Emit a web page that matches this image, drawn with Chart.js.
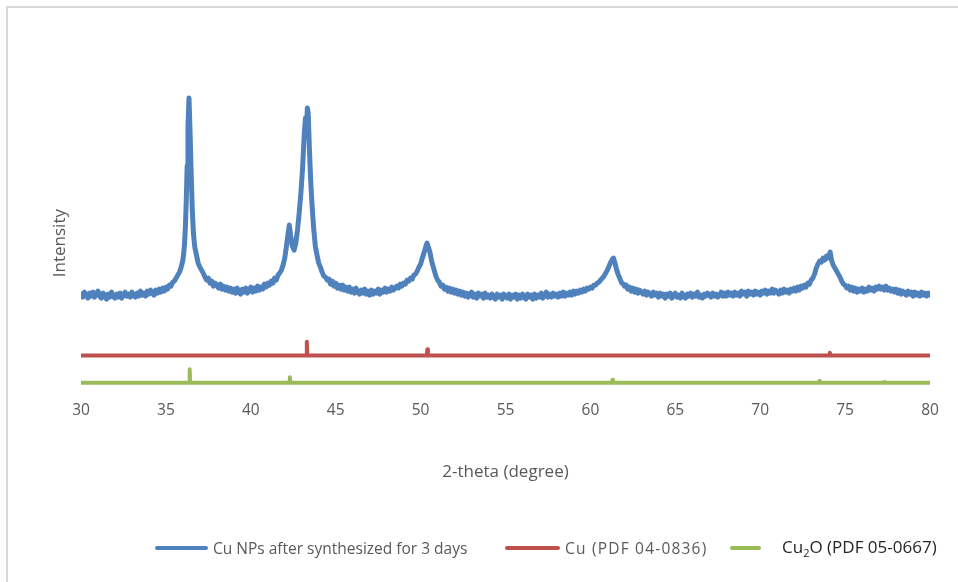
<!DOCTYPE html>
<html>
<head>
<meta charset="utf-8">
<script src="https://cdn.jsdelivr.net/npm/chart.js@4.4.1/dist/chart.umd.min.js"></script>
<style>
  body { margin: 0; background: #fff; overflow: hidden; font-family: "Open Sans", sans-serif; }
  #wrap { position: relative; width: 958px; height: 582px; overflow: hidden; }
  #frame { position: absolute; left: 6px; top: 6px; width: 1000px; height: 1000px;
           border-left: 2px solid #d9d9d9; border-top: 2px solid #d9d9d9; }
  canvas { position: absolute; left: 0; top: 0; }
  .leg { position: absolute; top: 537px; height: 22px; display: flex; align-items: center;
         color: #595959; font-size: 15.5px; white-space: nowrap; }
  .sw { display: inline-block; height: 4px; border-radius: 2px; margin-right: 5px; }
  .big { font-size: 17px; color: #262626; }
  .big sub { font-size: 11px; }
</style>
</head>
<body>
<div id="wrap">
  <div id="frame"></div>
  <canvas id="chart" width="958" height="582"></canvas>
  <div class="leg" style="left:155px"><span class="sw" style="width:53px;background:#4f81bd"></span>Cu NPs after synthesized for 3 days</div>
  <div class="leg" style="left:505px"><span class="sw" style="width:55px;background:#c0504d"></span><span style="letter-spacing:1.2px">Cu (PDF 04-0836)</span></div>
  <div class="leg" style="left:730px"><span class="sw" style="width:31px;background:#9bbb59;margin-right:21px"></span><span class="big">Cu<sub>2</sub>O (PDF 05-0667)</span></div>
</div>
<script>
// measured pattern, [2-theta, intensity (a.u.)]
const cuNpsScan = [
  [30.0,104],[30.1,101],[30.2,106],[30.3,103],[30.4,100],[30.5,105],[30.6,102],[30.7,106],[30.8,101],[30.9,104],
  [31.0,107],[31.1,102],[31.2,100],[31.3,105],[31.4,103],[31.5,99],[31.6,104],[31.7,101],[31.8,106],[31.9,102],
  [32.0,100],[32.1,104],[32.2,101],[32.3,105],[32.4,100],[32.5,103],[32.6,106],[32.7,102],[32.8,104],[32.9,101],
  [33.0,106],[33.1,103],[33.2,101],[33.3,105],[33.4,102],[33.5,107],[33.6,103],[33.7,105],[33.8,102],[33.9,107],
  [34.0,104],[34.1,108],[34.2,105],[34.3,103],[34.4,108],[34.5,105],[34.6,109],[34.7,106],[34.8,110],[34.9,107],
  [35.0,111],[35.1,109],[35.2,113],[35.3,112],[35.4,116],[35.5,117],[35.6,120],[35.7,123],[35.8,126],[35.9,131],
  [36.0,138],[36.05,145],[36.1,155],[36.15,172],[36.2,198],[36.25,232],[36.3,272],[36.36,300],[36.42,268],[36.48,230],
  [36.55,190],[36.62,165],[36.7,151],[36.8,143],[36.9,135],[37.0,131],[37.1,128],[37.2,125],[37.3,121],
  [37.4,118],[37.5,120],[37.6,115],[37.7,117],[37.8,112],[37.9,115],[38.0,113],[38.1,110],[38.2,114],[38.3,109],
  [38.4,112],[38.5,108],[38.6,111],[38.7,107],[38.8,110],[38.9,106],[39.0,109],[39.1,105],[39.2,110],[39.3,106],
  [39.4,104],[39.5,109],[39.6,106],[39.7,110],[39.8,105],[39.9,108],[40.0,111],[40.1,106],[40.2,110],[40.3,107],
  [40.4,112],[40.5,108],[40.6,111],[40.7,109],[40.8,114],[40.9,111],[41.0,115],[41.1,113],[41.2,117],[41.3,115],
  [41.4,120],[41.5,118],[41.6,123],[41.7,125],[41.8,128],[41.9,133],[42.0,140],[42.1,152],[42.2,165],[42.27,173],
  [42.35,162],[42.45,152],[42.55,148],[42.65,155],[42.75,168],[42.85,185],[42.95,205],[43.05,230],[43.15,265],[43.22,280],
  [43.27,262],[43.33,290],[43.38,285],[43.45,250],[43.52,220],[43.6,195],[43.7,170],[43.8,152],[43.9,143],[44.0,135],
  [44.1,131],[44.2,126],[44.3,122],[44.4,121],[44.5,118],[44.6,119],[44.7,114],[44.8,117],[44.9,112],[45.0,115],
  [45.1,110],[45.2,113],[45.3,109],[45.4,113],[45.5,108],[45.6,111],[45.7,107],[45.8,111],[45.9,106],[46.0,109],
  [46.1,105],[46.2,110],[46.3,106],[46.4,104],[46.5,108],[46.6,105],[46.7,109],[46.8,104],[46.9,107],[47.0,103],
  [47.1,108],[47.2,104],[47.3,107],[47.4,105],[47.5,109],[47.6,104],[47.7,108],[47.8,106],[47.9,110],[48.0,106],
  [48.1,109],[48.2,107],[48.3,111],[48.4,108],[48.5,110],[48.6,112],[48.7,110],[48.8,114],[48.9,112],[49.0,115],
  [49.1,114],[49.2,118],[49.3,117],[49.4,120],[49.5,119],[49.6,123],[49.7,124],[49.8,127],[49.9,131],[50.0,134],
  [50.1,140],[50.2,145],[50.3,151],[50.38,155],[50.45,151],[50.55,146],[50.65,137],[50.8,128],[50.9,122],[51.0,118],
  [51.1,116],[51.2,112],[51.3,113],[51.4,109],[51.5,111],[51.6,107],[51.7,110],[51.8,106],[51.9,109],[52.0,105],
  [52.1,108],[52.2,104],[52.3,107],[52.4,103],[52.5,106],[52.6,102],[52.7,105],[52.8,101],[52.9,104],[53.0,106],
  [53.1,101],[53.2,104],[53.3,100],[53.4,105],[53.5,102],[53.6,104],[53.7,100],[53.8,105],[53.9,101],[54.0,103],
  [54.1,100],[54.2,104],[54.3,101],[54.4,99],[54.5,104],[54.6,101],[54.7,103],[54.8,99],[54.9,104],[55.0,102],
  [55.1,100],[55.2,104],[55.3,99],[55.4,103],[55.5,101],[55.6,104],[55.7,99],[55.8,103],[55.9,100],[56.0,104],
  [56.1,101],[56.2,99],[56.3,104],[56.4,101],[56.5,103],[56.6,99],[56.7,104],[56.8,100],[56.9,103],[57.0,101],
  [57.1,105],[57.2,100],[57.3,103],[57.4,106],[57.5,101],[57.6,104],[57.7,101],[57.8,105],[57.9,102],[58.0,104],
  [58.1,101],[58.2,105],[58.3,102],[58.4,106],[58.5,102],[58.6,105],[58.7,103],[58.8,106],[58.9,103],[59.0,107],
  [59.1,104],[59.2,107],[59.3,105],[59.4,108],[59.5,106],[59.6,109],[59.7,107],[59.8,110],[59.9,109],[60.0,111],
  [60.1,110],[60.2,113],[60.3,113],[60.4,115],[60.5,116],[60.6,118],[60.7,120],[60.8,122],[60.9,125],[61.0,128],
  [61.1,132],[61.2,136],[61.3,139],[61.36,140],[61.45,135],[61.55,128],[61.65,123],[61.75,119],[61.85,115],[61.95,114],
  [62.0,112],[62.1,113],[62.2,109],[62.3,111],[62.4,107],[62.5,110],[62.6,106],[62.7,109],[62.8,105],[62.9,108],
  [63.0,106],[63.1,104],[63.2,107],[63.3,103],[63.4,106],[63.5,104],[63.6,102],[63.7,106],[63.8,103],[63.9,105],
  [64.0,101],[64.1,105],[64.2,102],[64.3,104],[64.4,100],[64.5,104],[64.6,102],[64.7,105],[64.8,100],[64.9,103],
  [65.0,105],[65.1,101],[65.2,103],[65.3,100],[65.4,105],[65.5,102],[65.6,100],[65.7,104],[65.8,102],[65.9,105],
  [66.0,101],[66.1,104],[66.2,102],[66.3,106],[66.4,101],[66.5,103],[66.6,100],[66.7,104],[66.8,102],[66.9,105],
  [67.0,103],[67.1,101],[67.2,105],[67.3,102],[67.4,104],[67.5,101],[67.6,103],[67.7,106],[67.8,102],[67.9,105],
  [68.0,102],[68.1,106],[68.2,103],[68.3,105],[68.4,102],[68.5,106],[68.6,103],[68.7,105],[68.8,102],[68.9,107],
  [69.0,104],[69.1,106],[69.2,102],[69.3,107],[69.4,104],[69.5,106],[69.6,103],[69.7,107],[69.8,104],[69.9,106],
  [70.0,103],[70.1,107],[70.2,105],[70.3,108],[70.4,104],[70.5,107],[70.6,105],[70.7,109],[70.8,105],[70.9,108],
  [71.0,106],[71.1,104],[71.2,108],[71.3,105],[71.4,109],[71.5,106],[71.6,108],[71.7,105],[71.8,109],[71.9,107],
  [72.0,110],[72.1,107],[72.2,111],[72.3,108],[72.4,112],[72.5,110],[72.6,113],[72.7,111],[72.8,115],[72.9,114],
  [73.0,118],[73.1,120],[73.2,124],[73.3,130],[73.4,134],[73.5,137],[73.6,136],[73.7,140],[73.8,138],[73.9,142],
  [73.95,140],[74.05,143],[74.12,146],[74.2,138],[74.3,133],[74.4,130],[74.5,127],[74.6,124],[74.7,121],[74.8,117],
  [74.9,114],[75.0,113],[75.1,110],[75.2,112],[75.3,108],[75.4,111],[75.5,107],[75.6,110],[75.7,106],[75.8,109],
  [75.9,107],[76.0,110],[76.1,106],[76.2,109],[76.3,107],[76.4,111],[76.5,108],[76.6,110],[76.7,107],[76.8,111],
  [76.9,109],[77.0,112],[77.1,109],[77.2,111],[77.3,108],[77.4,112],[77.5,108],[77.6,110],[77.7,107],[77.8,109],
  [77.9,106],[78.0,109],[78.1,105],[78.2,108],[78.3,104],[78.4,107],[78.5,105],[78.6,103],[78.7,107],[78.8,104],
  [78.9,106],[79.0,102],[79.1,106],[79.2,103],[79.3,105],[79.4,102],[79.5,106],[79.6,103],[79.7,105],[79.8,102],
  [79.9,105],[80.0,103]
];

// reference patterns (offset stick lines)
const cuBase = 42.7;
const cuPeaks = [43.3, 50.4, 74.1];
const cuHeights = [56.5, 49, 45.5];

const cu2oBase = 15.5;
const cu2oPeaks = [36.4, 42.3, 61.3, 73.5, 77.3];
const cu2oHeights = [29, 21, 18.5, 17.5, 16.2];

const xTicks = [30, 35, 40, 45, 50, 55, 60, 65, 70, 75, 80];

function sticks(base, peaks, heights) {
  const pts = [{ x: 30, y: base }];
  peaks.forEach((p, i) => {
    pts.push({ x: p - 0.03, y: base }, { x: p, y: heights[i] }, { x: p + 0.03, y: base });
  });
  pts.push({ x: 80, y: base });
  return pts;
}

const ctx = document.getElementById('chart').getContext('2d');
new Chart(ctx, {
  type: 'line',
  data: {
    datasets: [
      { label: 'Cu NPs after synthesized for 3 days', data: cuNpsScan.map(([x, y]) => ({ x, y })),
        borderColor: '#4f81bd', borderWidth: 5, pointRadius: 0, tension: 0, borderJoinStyle: 'round', borderCapStyle: 'round' },
      { label: 'Cu (PDF 04-0836)', data: sticks(cuBase, cuPeaks, cuHeights),
        borderColor: '#c0504d', borderWidth: 4, pointRadius: 0, tension: 0, borderJoinStyle: 'round', borderCapStyle: 'round' },
      { label: 'Cu2O (PDF 05-0667)', data: sticks(cu2oBase, cu2oPeaks, cu2oHeights),
        borderColor: '#9bbb59', borderWidth: 4, pointRadius: 0, tension: 0, borderJoinStyle: 'round', borderCapStyle: 'round' },
    ],
  },
  options: {
    responsive: false,
    animation: false,
    layout: { padding: { left: 50, right: 28, top: 88, bottom: 100 } },
    plugins: { legend: { display: false }, tooltip: { enabled: false } },
    scales: {
      x: {
        type: 'linear', min: 30, max: 80,
        afterBuildTicks: (axis) => { axis.ticks = xTicks.map(v => ({ value: v })); },
        grid: { display: false, drawTicks: false },
        border: { display: false },
        ticks: { color: '#595959', padding: 3, font: { family: 'Open Sans', size: 15.5 } },
        title: { display: true, text: '2-theta (degree)', color: '#595959',
                 font: { family: 'Open Sans', size: 17 }, padding: { top: 38.8, bottom: 0 } },
      },
      y: {
        min: 0, max: 310,
        grid: { display: false, drawTicks: false },
        border: { display: false },
        ticks: { display: false },
        title: { display: true, text: 'Intensity', color: '#595959',
                 font: { family: 'Open Sans', size: 17 }, padding: { top: 0, bottom: 10.6 } },
      },
    },
  },
});
</script>
</body>
</html>
